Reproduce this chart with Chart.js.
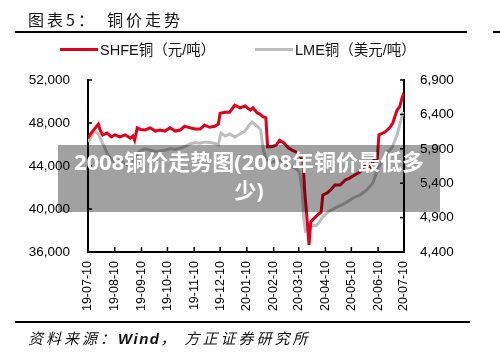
<!DOCTYPE html>
<html><head><meta charset="utf-8">
<script src="https://cdn.jsdelivr.net/npm/chart.js@4"></script>
<style>
html,body{margin:0;padding:0;background:#fff;}
#wrap{position:relative;width:500px;height:357px;overflow:hidden;font-family:"Liberation Sans","Noto Sans CJK SC",sans-serif;}
canvas{position:absolute;left:0;top:0;}
.abs{position:absolute;white-space:nowrap;}
</style></head><body>
<div id="wrap">
<canvas id="c" width="500" height="357"></canvas>
<div class="abs" style="left:28px;top:9px;font-size:16px;letter-spacing:3px;color:#111;font-family:'Noto Sans CJK SC',sans-serif;line-height:20px;">图表5：<span style="margin-left:10px">铜价走势</span></div>
<div class="abs" style="left:15px;top:31px;width:452px;height:2px;background:#000"></div>
<div class="abs" style="left:493px;top:31px;width:7px;height:2px;background:#000"></div>
<div id="legend"></div>
<div class="abs" style="left:15px;top:321px;width:455px;height:2px;background:#000"></div>
<div class="abs" style="left:28px;top:328px;font-size:15px;letter-spacing:3px;font-style:italic;color:#111;font-family:'Noto Sans CJK SC',sans-serif;line-height:20px;">资料来源：<b style="font-family:'Liberation Sans',sans-serif;font-style:italic;letter-spacing:1.5px;">Wind</b>，<span style="margin-left:6px">方正证券研究所</span></div>
<div class="abs" style="left:58px;top:145px;width:382px;height:67px;background:rgba(0,0,0,0.37);color:#fff;font-weight:bold;font-size:22px;text-align:center;line-height:28px;padding-top:2px;box-sizing:border-box;font-family:'Noto Sans','Noto Sans CJK SC',sans-serif;">2008铜价走势图(2008年铜价最低多<br>少)</div>
</div>
<script>
const seriesNames = ['SHFE铜（元/吨）', 'LME铜（美元/吨）'];
const tickLabels = ['19-07-10','19-08-10','19-09-10','19-10-10','19-11-10','19-12-10','20-01-10','20-02-10','20-03-10','20-04-10','20-05-10','20-06-10','20-07-10'];
// days since 2019-07-10
const shfeDay = [0,3,8,12,14,17,22,27,31,37,43,49,52,54,57,61,66,72,78,83,89,95,101,107,112,118,124,130,135,141,147,151,153,159,164,170,176,182,188,191,196,199,203,206,208,213,218,222,227,232,236,241,245,249,251,254,256,258,262,266,270,272,277,281,286,292,298,303,309,315,321,327,331,335,337,344,350,353,358,361,364,366];
const shfeVal = [46600,47000,47500,47900,47350,46880,47070,46700,46900,46700,46900,46600,46800,46400,47550,47400,47350,47550,47250,47350,47250,47550,47250,47350,47700,47550,47450,47450,47800,47600,47700,47900,48900,49000,49000,49650,49400,49580,49200,49400,48930,48830,48560,48500,45800,45800,45950,46400,46150,45700,45500,45300,45000,44500,41600,38800,36650,38800,39150,39450,39700,41300,41500,41770,42230,42230,42700,42880,43160,43440,44090,43900,44550,44700,46900,47160,47630,48000,49200,49500,50400,50800];
const lmeDay = [0,5,8,12,15,19,23,28,32,37,42,46,51,56,60,66,72,78,83,89,95,101,107,112,118,124,130,135,141,146,151,154,159,164,170,176,182,186,190,193,197,200,203,206,211,217,222,228,234,240,245,248,250,252,255,259,265,271,278,284,288,294,300,307,315,323,330,336,342,346,350,353,358,361,365];
const lmeVal = [5999,6101,6159,6115,6028,5926,5810,5737,5694,5737,5694,5665,5694,5800,5870,5900,5880,5860,5870,5880,5900,5890,5910,5930,5970,5990,5980,6000,5990,5980,5960,6130,6086,6115,6072,6115,6159,6231,6290,6260,6217,6173,5883,5766,5694,5723,5737,5694,5650,5621,5563,5301,4865,4705,4734,4778,4792,4894,4981,5025,5054,5083,5127,5185,5228,5301,5403,5621,5737,5853,5883,5941,6101,6246,6435];
const colors = ['#e0001b', '#bdbdbd'];

const base = Date.UTC(2019, 6, 10);
const tickDays = tickLabels.map(s => { const [y, m, d] = s.split('-').map(Number); return Math.round((Date.UTC(2000 + y, m - 1, d) - base) / 86400000); });

// HTML legend
const lg = document.getElementById('legend');
const legendX = [60, 255];
seriesNames.forEach((n, i) => {
  const ln = document.createElement('div');
  ln.className = 'abs';
  ln.style.cssText = `left:${legendX[i]}px;top:48px;width:38px;height:3px;background:${colors[i]}`;
  lg.appendChild(ln);
  const tx = document.createElement('div');
  tx.className = 'abs';
  tx.style.cssText = `left:${legendX[i] + 40}px;top:40px;font-size:14.5px;line-height:20px;color:#111;`;
  tx.textContent = n;
  lg.appendChild(tx);
});

const tickMarks = {
  id: 'tickMarks',
  afterDraw(chart) {
    const ctx = chart.ctx, a = chart.chartArea;
    ctx.save();
    ctx.strokeStyle = '#000'; ctx.lineWidth = 1.5;
    const y = chart.scales.y, y2 = chart.scales.y2, x = chart.scales.x;
    y.ticks.forEach(t => { const p = y.getPixelForValue(t.value); ctx.beginPath(); ctx.moveTo(a.left, p); ctx.lineTo(a.left + 4, p); ctx.stroke(); });
    y2.ticks.forEach(t => { const p = y2.getPixelForValue(t.value); ctx.beginPath(); ctx.moveTo(a.right, p); ctx.lineTo(a.right - 4, p); ctx.stroke(); });
    tickDays.forEach(d => { const p = x.getPixelForValue(d); ctx.beginPath(); ctx.moveTo(p, a.bottom); ctx.lineTo(p, a.bottom - 5); ctx.stroke(); });
    ctx.restore();
  }
};

const font = { family: "'Liberation Sans', Arial, sans-serif", size: 13.5 };
new Chart(document.getElementById('c'), {
  type: 'line',
  data: {
    datasets: [
      { label: seriesNames[0], data: shfeDay.map((d, i) => ({ x: d, y: shfeVal[i] })), yAxisID: 'y', borderColor: colors[0], borderWidth: 3, pointRadius: 0, tension: 0, fill: false },
      { label: seriesNames[1], data: lmeDay.map((d, i) => ({ x: d, y: lmeVal[i] })), yAxisID: 'y2', borderColor: colors[1], borderWidth: 3, pointRadius: 0, tension: 0, fill: false }
    ]
  },
  options: {
    responsive: false, animation: false, devicePixelRatio: 1,
    layout: { padding: { top: 80, left: 0, right: 0, bottom: 0 } },
    plugins: { legend: { display: false }, tooltip: { enabled: false } },
    scales: {
      x: {
        type: 'linear', min: tickDays[0], max: tickDays[tickDays.length - 1],
        afterBuildTicks: s => { s.ticks = tickDays.map(v => ({ value: v })); },
        ticks: { autoSkip: false, maxRotation: 90, minRotation: 90, padding: 9, color: '#000', font: { family: font.family, size: 12.5 },
          callback: v => { const i = tickDays.indexOf(v); return i >= 0 ? tickLabels[i] : ''; } },
        grid: { display: false, drawTicks: false },
        border: { display: true, color: '#000', width: 2 },
        afterFit: s => { s.height = 105; }
      },
      y: {
        position: 'left', min: 36000, max: 52000,
        ticks: { stepSize: 4000, padding: 18, color: '#000', font, callback: v => v.toLocaleString('en-US') },
        grid: { display: false, drawTicks: false },
        border: { display: true, color: '#000', width: 2 },
        afterFit: s => { s.width = 88; }
      },
      y2: {
        position: 'right', min: 4400, max: 6900,
        ticks: { stepSize: 500, padding: 16, color: '#000', font, callback: v => v.toLocaleString('en-US') },
        grid: { display: false, drawTicks: false },
        border: { display: true, color: '#000', width: 2 },
        afterFit: s => { s.width = 96; }
      }
    }
  },
  plugins: [tickMarks]
});
</script>
</body></html>
